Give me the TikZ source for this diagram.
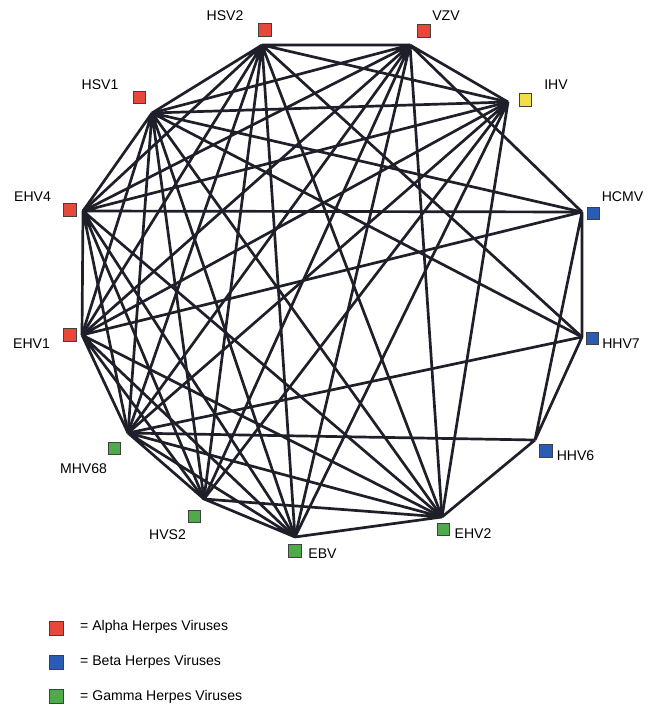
\documentclass[tikz,border=0pt]{standalone}
\usepackage{fontspec}
\setmainfont{Liberation Sans}
\definecolor{alphared}{HTML}{E8483A}
\definecolor{betablue}{HTML}{2A5CB4}
\definecolor{gammagreen}{HTML}{4FAA4C}
\definecolor{ihvyellow}{HTML}{F4DE45}
\definecolor{linecol}{HTML}{1F1F2A}
\begin{document}
\begin{tikzpicture}[x=0.03cm,y=-0.03cm,
	link/.style={draw=linecol,line width=2.3pt},
	box/.style={draw=black!75,line width=0.8pt,minimum size=0.37cm,inner sep=0pt},
	keybox/.style={draw=black!75,line width=0.8pt,minimum size=0.42cm,inner sep=0pt},
	lbl/.style={font=\fontsize{12}{14}\selectfont,inner sep=0pt}]
	\useasboundingbox (0,0) rectangle (657,705);

	%hubs
	\coordinate (hsv2) at (262,45); %HSV2
	\coordinate (vzv) at (410,45); %VZV
	\coordinate (ihv) at (508,102); %IHV
	\coordinate (hcmv) at (582,212); %HCMV
	\coordinate (hhv7) at (582,337); %HHV7
	\coordinate (hhv6) at (535,440); %HHV6
	\coordinate (ehv2) at (442,517); %EHV2
	\coordinate (ebv) at (295,537); %EBV
	\coordinate (hvs2) at (204,499); %HVS2
	\coordinate (mhv68) at (128,433); %MHV68
	\coordinate (ehv1) at (82,335); %EHV1
	\coordinate (ehv4) at (83,211); %EHV4
	\coordinate (hsv1) at (152,113); %HSV1

	%links------------------------------------------------
	\draw[link] (hsv2) -- (vzv) (hsv2) -- (hsv1) (hsv2) -- (ehv4) (hsv2) -- (ehv1) (hsv2) -- (ihv)
		(hsv2) -- (mhv68) (hsv2) -- (hvs2) (hsv2) -- (ebv) (hsv2) -- (ehv2) (hsv2) -- (hhv7); %HSV2 links
	\draw[link] (vzv) -- (hsv1) (vzv) -- (ehv4) (vzv) -- (ehv1) (vzv) -- (ihv) (vzv) -- (mhv68)
		(vzv) -- (hvs2) (vzv) -- (ebv) (vzv) -- (ehv2) (vzv) -- (hcmv); %VZV links
	\draw[link] (hsv1) -- (ehv4) (hsv1) -- (ehv1) (hsv1) -- (ihv) (hsv1) -- (mhv68) (hsv1) -- (hvs2)
		(hsv1) -- (ebv) (hsv1) -- (ehv2) (hsv1) -- (hcmv) (hsv1) -- (hhv7); %HSV1 links
	\draw[link] (ehv4) -- (ehv1) (ehv4) -- (ihv) (ehv4) -- (mhv68) (ehv4) -- (hvs2) (ehv4) -- (ebv)
		(ehv4) -- (ehv2) (ehv4) -- (hcmv); %EHV4 links
	\draw[link] (ehv1) -- (ihv) (ehv1) -- (mhv68) (ehv1) -- (hvs2) (ehv1) -- (ebv) (ehv1) -- (ehv2)
		(ehv1) -- (hcmv); %EHV1 links
	\draw[link] (ihv) -- (mhv68) (ihv) -- (hvs2) (ihv) -- (ebv) (ihv) -- (ehv2); %IHV links
	\draw[link] (hcmv) -- (hhv7) (hcmv) -- (hhv6) (hhv7) -- (hhv6) (hhv7) -- (mhv68); %beta links
	\draw[link] (hhv6) -- (ehv2) (hhv6) -- (mhv68); %HHV6 links
	\draw[link] (ehv2) -- (ebv) (ehv2) -- (hvs2) (ehv2) -- (mhv68) (ebv) -- (hvs2) (ebv) -- (mhv68)
		(hvs2) -- (mhv68); %gamma links

	%squares
	\node[box,fill=alphared] (hsv2sq) at (265,30) {}; %HSV2
	\node[box,fill=alphared] (vzvsq) at (424,31) {}; %VZV
	\node[box,fill=ihvyellow] (ihvsq) at (525.5,100) {}; %IHV
	\node[box,fill=betablue] (hcmvsq) at (593.5,213.5) {}; %HCMV
	\node[box,fill=betablue] (hhv7sq) at (592.5,338.5) {}; %HHV7
	\node[box,fill=betablue] (hhv6sq) at (546,451) {}; %HHV6
	\node[box,fill=gammagreen] (ehv2sq) at (443.5,529.5) {}; %EHV2
	\node[box,fill=gammagreen] (ebvsq) at (295,551) {}; %EBV
	\node[box,fill=gammagreen] (hvs2sq) at (194.5,516.5) {}; %HVS2
	\node[box,fill=gammagreen] (mhv68sq) at (114.5,448.5) {}; %MHV68
	\node[box,fill=alphared] (ehv1sq) at (70,335) {}; %EHV1
	\node[box,fill=alphared] (ehv4sq) at (70,210) {}; %EHV4
	\node[box,fill=alphared] (hsv1sq) at (139.5,97.5) {}; %HSV1

	%labels
	\node[lbl] (hsv2lbl) at (225,15.5) {HSV2};
	\node[lbl] (vzvlbl) at (446,15.5) {VZV};
	\node[lbl] (ihvlbl) at (556,85) {IHV};
	\node[lbl] (hcmvlbl) at (622.5,197) {HCMV};
	\node[lbl] (hhv7lbl) at (621,344) {HHV7};
	\node[lbl] (hhv6lbl) at (575.5,456) {HHV6};
	\node[lbl] (ehv2lbl) at (473,534) {EHV2};
	\node[lbl] (ebvlbl) at (322.5,554) {EBV};
	\node[lbl] (hvs2lbl) at (167.5,535) {HVS2};
	\node[lbl] (mhv68lbl) at (83.5,468.5) {MHV68};
	\node[lbl] (ehv1lbl) at (31.5,343.5) {EHV1};
	\node[lbl] (ehv4lbl) at (32.5,196.5) {EHV4};
	\node[lbl] (hsv1lbl) at (100,85) {HSV1};

	%key
	\node[keybox,fill=alphared] (alphakey) at (56,628) {}; %alpha
	\node[lbl,anchor=base west] (alphatxt) at (80,630) {= Alpha Herpes Viruses};
	\node[keybox,fill=betablue] (betakey) at (56,662.5) {}; %beta
	\node[lbl,anchor=base west] (betatxt) at (80,665) {= Beta Herpes Viruses};
	\node[keybox,fill=gammagreen] (gammakey) at (56,696.5) {}; %gamma
	\node[lbl,anchor=base west] (gammatxt) at (80,700) {= Gamma Herpes Viruses};
\end{tikzpicture}
\end{document}
